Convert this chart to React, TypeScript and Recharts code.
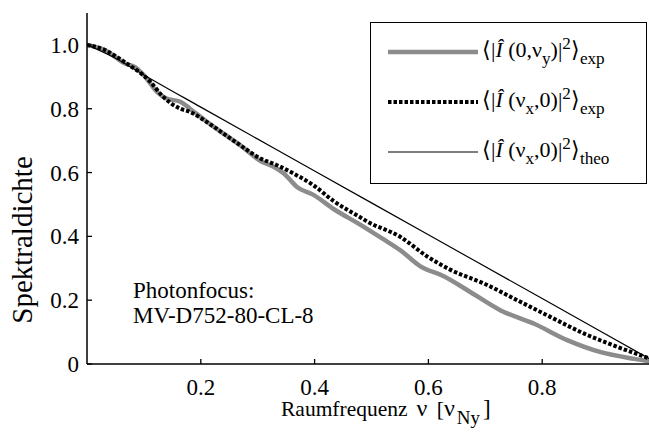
import React from 'react';
import { LineChart, Line, XAxis, YAxis, Legend, Customized } from 'recharts';

// Series 1: <|I(0,ν_y)|²>_exp (gray, thick)
const grayX = [0, 0.03, 0.067, 0.085, 0.1, 0.123, 0.14, 0.164, 0.181, 0.21, 0.24, 0.269, 0.305, 0.328, 0.346, 0.369, 0.398, 0.434, 0.48, 0.52, 0.551, 0.586, 0.627, 0.668, 0.727, 0.786, 0.845, 0.903, 0.962, 1.0];
const grayY = [1.0, 0.985, 0.942, 0.93, 0.905, 0.853, 0.832, 0.822, 0.8, 0.76, 0.722, 0.686, 0.636, 0.618, 0.597, 0.555, 0.53, 0.485, 0.437, 0.392, 0.356, 0.306, 0.275, 0.232, 0.168, 0.126, 0.074, 0.037, 0.016, 0.005];

// Series 2: <|I(ν_x,0)|²>_exp (black, dotted)
const dotX = [0, 0.03, 0.067, 0.111, 0.134, 0.164, 0.181, 0.21, 0.24, 0.269, 0.305, 0.334, 0.363, 0.398, 0.434, 0.48, 0.492, 0.551, 0.598, 0.639, 0.698, 0.757, 0.815, 0.874, 0.933, 0.988, 1.0];
const dotY = [1.0, 0.985, 0.945, 0.885, 0.837, 0.8, 0.79, 0.759, 0.722, 0.686, 0.644, 0.623, 0.597, 0.56, 0.51, 0.46, 0.447, 0.398, 0.337, 0.295, 0.252, 0.199, 0.147, 0.095, 0.053, 0.017, 0.008];

// Series 3: <|I(ν_x,0)|²>_theo (black, thin)
const theoX = [0, 0.05, 0.1, 0.2, 0.4, 0.6, 0.8, 1.0];
const theoY = [1.0, 0.958, 0.906, 0.805, 0.605, 0.405, 0.205, 0.005];

const seriesNames = ['gray', 'dot', 'theo'];
const xTicks = [0.2, 0.4, 0.6, 0.8, 1];
const yTicks = [0, 0.2, 0.4, 0.6, 0.8, 1.0];
const annotationLines = ['Photonfocus:', 'MV-D752-80-CL-8'];

const toPoints = (xs: number[], ys: number[]) => xs.map((x, i) => ({ x, y: ys[i] }));

const FONT = '"Liberation Serif", "Times New Roman", serif';

const subStyle: React.CSSProperties = { fontSize: '0.78em', position: 'relative', top: '0.42em', lineHeight: 0 };
const supStyle: React.CSSProperties = { fontSize: '0.78em', position: 'relative', top: '-0.45em', lineHeight: 0 };

const legendLabels: Record<string, React.ReactNode> = {
  gray: (
    <span>⟨|<i>Î</i> (0,ν<span style={subStyle}>y</span>)|<span style={supStyle}>2</span>⟩<span style={subStyle}>exp</span></span>
  ),
  dot: (
    <span>⟨|<i>Î</i> (ν<span style={subStyle}>x</span>,0)|<span style={supStyle}>2</span>⟩<span style={subStyle}>exp</span></span>
  ),
  theo: (
    <span>⟨|<i>Î</i> (ν<span style={subStyle}>x</span>,0)|<span style={supStyle}>2</span>⟩<span style={subStyle}>theo</span></span>
  ),
};

const renderLegend = (props: any) => {
  const payload = props.payload || [];
  return (
    <div style={{ width: 277, height: 162, boxSizing: 'border-box', border: '1.5px solid #000', background: '#fff', paddingTop: 4, fontFamily: FONT, fontSize: 22 }}>
      {seriesNames.map((name) => {
        const entry = payload.find((e: any) => e.value === name) || {};
        const p = entry.payload || {};
        return (
          <div key={name} style={{ display: 'flex', alignItems: 'center', height: 50 }}>
            <svg width={108} height={12} style={{ flex: 'none' }}>
              <line x1={17} x2={107} y1={6} y2={6} stroke={entry.color} strokeWidth={p.strokeWidth} strokeDasharray={p.strokeDasharray} />
            </svg>
            <span style={{ marginLeft: 3, whiteSpace: 'nowrap', marginTop: -4 }}>{legendLabels[name]}</span>
          </div>
        );
      })}
    </div>
  );
};

const YTick = (props: any) => {
  const { x, y, payload } = props;
  const v = payload.value;
  const label = v === 0 ? '0' : v.toFixed(1);
  return (
    <g>
      <line x1={x + 8} x2={x + 13} y1={y} y2={y} stroke="#000" strokeWidth={1.3} />
      <text x={x} y={y} dy="0.35em" textAnchor="end" fontFamily={FONT} fontSize={23} fill="#000">{label}</text>
    </g>
  );
};

const XTick = (props: any) => {
  const { x, y, payload } = props;
  const v = payload.value;
  const label = v === 1 ? '1' : v.toFixed(1);
  return (
    <g>
      <line x1={x} x2={x} y1={y} y2={y - 5} stroke="#000" strokeWidth={1.3} />
      <text x={x} y={y + 31} textAnchor="middle" fontFamily={FONT} fontSize={23} fill="#000">{label}</text>
    </g>
  );
};

const TopTick = (props: any) => {
  const { x, y } = props;
  return <line x1={x} x2={x} y1={y} y2={y + 5} stroke="#000" strokeWidth={1.3} />;
};

const Texts = () => (
  <g fontFamily={FONT} fill="#000">
    <text transform="translate(32,240) rotate(-90)" textAnchor="middle" fontSize={29}>Spektraldichte</text>
    <text x={281} y={416} fontSize={21.5}>
      Raumfrequenz<tspan fontSize={24} dx={3}> ν</tspan><tspan dx={4}> [</tspan><tspan fontSize={24}>ν</tspan><tspan fontSize={19} dx={2} dy={8}>Ny</tspan><tspan dx={3} dy={-8} fontSize={23}>]</tspan>
    </text>
    {annotationLines.map((t, i) => (
      <text key={i} x={133} y={298 + i * 25} fontSize={23}>{t}</text>
    ))}
  </g>
);

export default function App() {
  return (
    <div style={{ position: 'absolute', left: 0, top: 0, width: 649, height: 436, overflow: 'hidden', background: '#fff' }}>
      <LineChart width={700} height={436} margin={{ top: 13, right: 44, bottom: 0, left: 0 }}>
        <XAxis xAxisId="b" type="number" dataKey="x" domain={[0, 1]} ticks={xTicks} tick={<XTick />} tickLine={false} tickSize={0} tickMargin={0} height={72} axisLine={{ stroke: '#000', strokeWidth: 1.5 }} allowDataOverflow />
        <XAxis xAxisId="top" orientation="top" type="number" dataKey="x" domain={[0, 1]} ticks={xTicks} tick={<TopTick />} tickLine={false} tickSize={0} tickMargin={0} height={0} axisLine={{ stroke: '#000', strokeWidth: 1.5 }} allowDataOverflow />
        <YAxis type="number" domain={[0, 1.1]} ticks={yTicks} tick={<YTick />} tickLine={false} tickSize={0} tickMargin={8} width={87} axisLine={{ stroke: '#000', strokeWidth: 1.5 }} allowDataOverflow />
        <Line xAxisId="b" name="gray" data={toPoints(grayX, grayY)} dataKey="y" type="monotone" stroke="#8c8c8c" strokeWidth={4.5} dot={false} isAnimationActive={false} />
        <Line xAxisId="b" name="dot" data={toPoints(dotX, dotY)} dataKey="y" type="monotone" stroke="#000" strokeWidth={4} strokeDasharray="3.5 2" dot={false} isAnimationActive={false} />
        <Line xAxisId="b" name="theo" data={toPoints(theoX, theoY)} dataKey="y" type="monotone" stroke="#000" strokeWidth={1.2} dot={false} isAnimationActive={false} />
        <Customized component={Texts} />
        <Legend layout="vertical" align="center" verticalAlign="middle" content={renderLegend} wrapperStyle={{ position: 'absolute', left: 370, top: 22, width: 277, height: 162, margin: 0, padding: 0 }} />
      </LineChart>
    </div>
  );
}
